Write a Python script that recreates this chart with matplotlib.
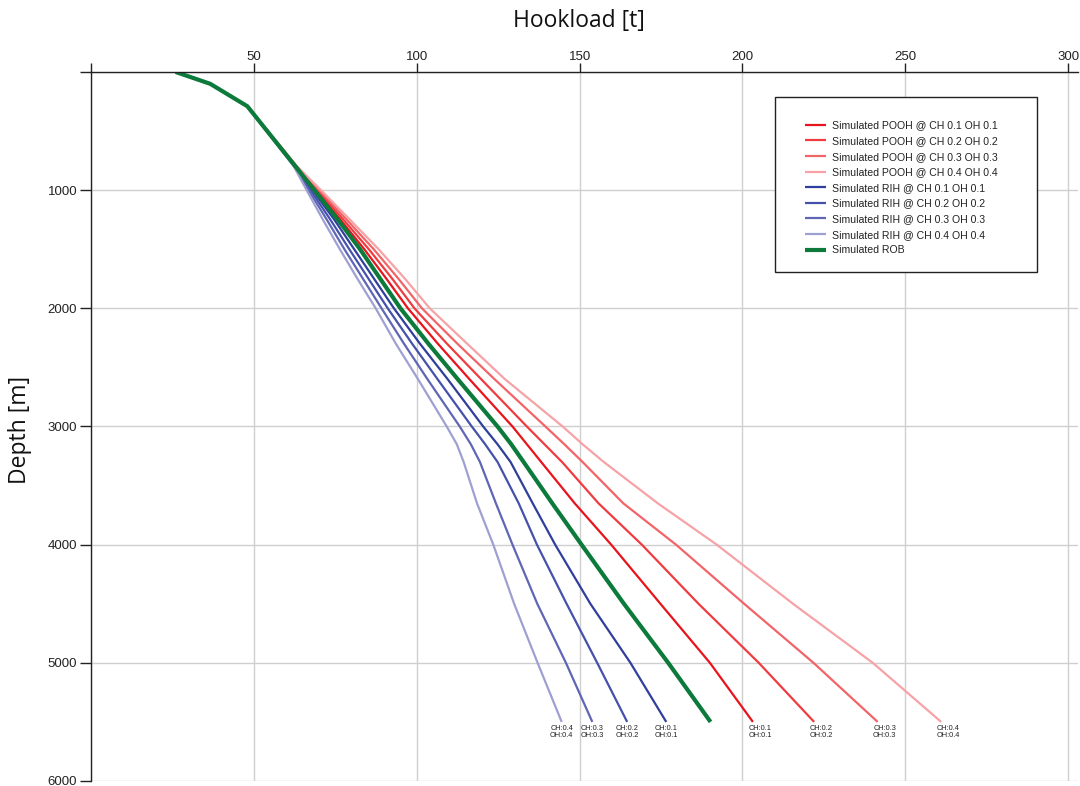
import matplotlib
matplotlib.use("Agg")
import matplotlib.pyplot as plt
from matplotlib.patches import Rectangle

# ---- data ----
depth = [0, 100, 290, 800, 1000, 1250, 1500, 1750, 2000, 2300, 2600, 3000, 3150, 3300, 3650, 4000, 4500, 5000, 5500]

pooh_01 = [26, 36.6, 48, 63.0, 69.1, 76.6, 83.9, 90.7, 97.3, 106.5, 116.2, 129.4, 133.8, 138.2, 148.5, 159.7, 174.8, 190.0, 203.2]
pooh_02 = [26, 36.6, 48, 63.1, 69.6, 77.5, 85.3, 92.5, 99.3, 109.3, 119.8, 133.8, 139.2, 144.6, 155.8, 169.1, 186.5, 205.0, 222.0]
pooh_03 = [26, 36.6, 48, 63.2, 70.1, 78.5, 86.8, 94.4, 101.6, 112.5, 123.9, 139.5, 145.3, 150.9, 163.4, 179.6, 200.5, 221.8, 241.5]
pooh_04 = [26, 36.6, 48, 63.3, 70.6, 79.5, 88.3, 96.4, 104.0, 115.5, 127.1, 144.8, 150.9, 157.4, 174.0, 192.1, 215.5, 240.0, 261.0]
rih_01 = [26, 36.6, 48, 62.6, 68.0, 74.7, 80.8, 86.9, 93.0, 101.0, 109.5, 120.4, 124.8, 128.8, 135.6, 142.5, 153.3, 165.6, 176.6]
rih_02 = [26, 36.6, 48, 62.5, 67.4, 73.5, 79.3, 85.2, 91.1, 98.6, 106.4, 116.9, 121.0, 124.8, 131.3, 136.9, 146.0, 155.4, 164.6]
rih_03 = [26, 36.6, 48, 62.4, 66.8, 72.4, 77.8, 83.5, 89.2, 96.1, 103.3, 113.2, 116.6, 119.4, 124.3, 129.4, 137.0, 145.8, 153.9]
rih_04 = [26, 36.6, 48, 62.3, 66.2, 71.2, 76.4, 81.8, 87.4, 93.6, 100.4, 109.2, 112.3, 114.4, 118.5, 123.5, 129.9, 137.1, 144.5]
rob = [26, 36.6, 48, 62.8, 68.6, 75.8, 82.6, 88.8, 95.0, 103.6, 112.6, 124.8, 129.0, 132.8, 141.6, 150.6, 163.6, 177.2, 190.2]

series_names = [
    "Simulated POOH @ CH 0.1 OH 0.1",
    "Simulated POOH @ CH 0.2 OH 0.2",
    "Simulated POOH @ CH 0.3 OH 0.3",
    "Simulated POOH @ CH 0.4 OH 0.4",
    "Simulated RIH @ CH 0.1 OH 0.1",
    "Simulated RIH @ CH 0.2 OH 0.2",
    "Simulated RIH @ CH 0.3 OH 0.3",
    "Simulated RIH @ CH 0.4 OH 0.4",
    "Simulated ROB",
]
end_labels = ["CH:0.1\nOH:0.1", "CH:0.2\nOH:0.2", "CH:0.3\nOH:0.3", "CH:0.4\nOH:0.4",
              "CH:0.1\nOH:0.1", "CH:0.2\nOH:0.2", "CH:0.3\nOH:0.3", "CH:0.4\nOH:0.4", None]

x_ticks = [0, 50, 100, 150, 200, 250, 300]
x_ticklabels = ["", "50", "100", "150", "200", "250", "300"]
y_ticks = [0, 1000, 2000, 3000, 4000, 5000, 6000]
y_ticklabels = ["", "1000", "2000", "3000", "4000", "5000", "6000"]

# ---- style ----
colors = ["#e8141c", "#ef3c40", "#f26468", "#f7a2a6",
          "#2f3f9b", "#4551ab", "#5f66b5", "#9ea0d2", "#0b7a3b"]
widths = [1.6] * 8 + [3.0]
label_dx = [5, 5, 5, 5, 0, 0, 0, 0, 0]

all_series = [pooh_01, pooh_02, pooh_03, pooh_04, rih_01, rih_02, rih_03, rih_04, rob]

W, H = 1080, 786
fig = plt.figure(figsize=(W / 100, H / 100), dpi=100)
ax = fig.add_axes([91 / W, 1 - 781 / H, (1078 - 91) / W, (781 - 72) / H])

for vals, name, c, lw in zip(all_series, series_names, colors, widths):
    ax.plot(vals, depth, color=c, lw=lw, label=name, solid_capstyle="butt",
            solid_joinstyle="round")

for vals, lab, c, dx in zip(all_series, end_labels, colors, label_dx):
    if lab is None:
        continue
    ax.annotate(lab, xy=(vals[-1], depth[-1]), xytext=(dx, -2.0), textcoords="offset points",
                ha="center", va="top", fontsize=5.3, family="Liberation Sans",
                linespacing=1.0, color="#222222")

ax.set_xlim(0, 303)
ax.set_ylim(6000, 0)
ax.xaxis.tick_top()
ax.set_xticks(x_ticks)
ax.set_xticklabels(x_ticklabels)
ax.set_yticks(y_ticks)
ax.set_yticklabels(y_ticklabels)
ax.tick_params(axis="x", direction="out", length=6.5, width=1, color="#222222",
               labelsize=9.5, labelcolor="#222222", pad=0)
ax.tick_params(axis="y", direction="out", length=8, width=1, color="#222222",
               labelsize=9.5, labelcolor="#222222", pad=2)
for lab in ax.get_xticklabels() + ax.get_yticklabels():
    lab.set_family("Liberation Sans")

ax.grid(True, color="#cfcfcf", lw=1)
ax.set_axisbelow(True)
for s in ["right", "bottom"]:
    ax.spines[s].set_visible(False)
for s in ["top", "left"]:
    ax.spines[s].set_color("#222222")
    ax.spines[s].set_linewidth(1)

fig.text(579 / W, 1 - 21 / H, "Hookload [t]", ha="center", va="center",
         fontsize=16.5, family="Open Sans", color="#111111")
fig.text(20 / W, 1 - 430 / H, "Depth [m]", ha="center", va="center", rotation=90,
         fontsize=16.5, family="Open Sans", color="#111111")

# legend frame drawn separately (inside the axes), entries placed inside it
ax.add_patch(Rectangle((775 / W, 1 - 272 / H), (1037 - 775) / W, (272 - 97) / H,
                       transform=fig.transFigure, facecolor="white",
                       edgecolor="#222222", lw=1, zorder=5, clip_on=False))
leg = ax.legend(loc="upper left", bbox_to_anchor=(805 / W, 1 - 120.5 / H),
                bbox_transform=fig.transFigure, frameon=False,
                borderpad=0, borderaxespad=0,
                handlelength=2.0, handletextpad=0.55, labelspacing=0.53,
                prop={"family": "Liberation Sans", "size": 7.6})
leg.set_zorder(6)
for t in leg.get_texts():
    t.set_color("#222222")

fig.savefig("out.png", dpi=100)
